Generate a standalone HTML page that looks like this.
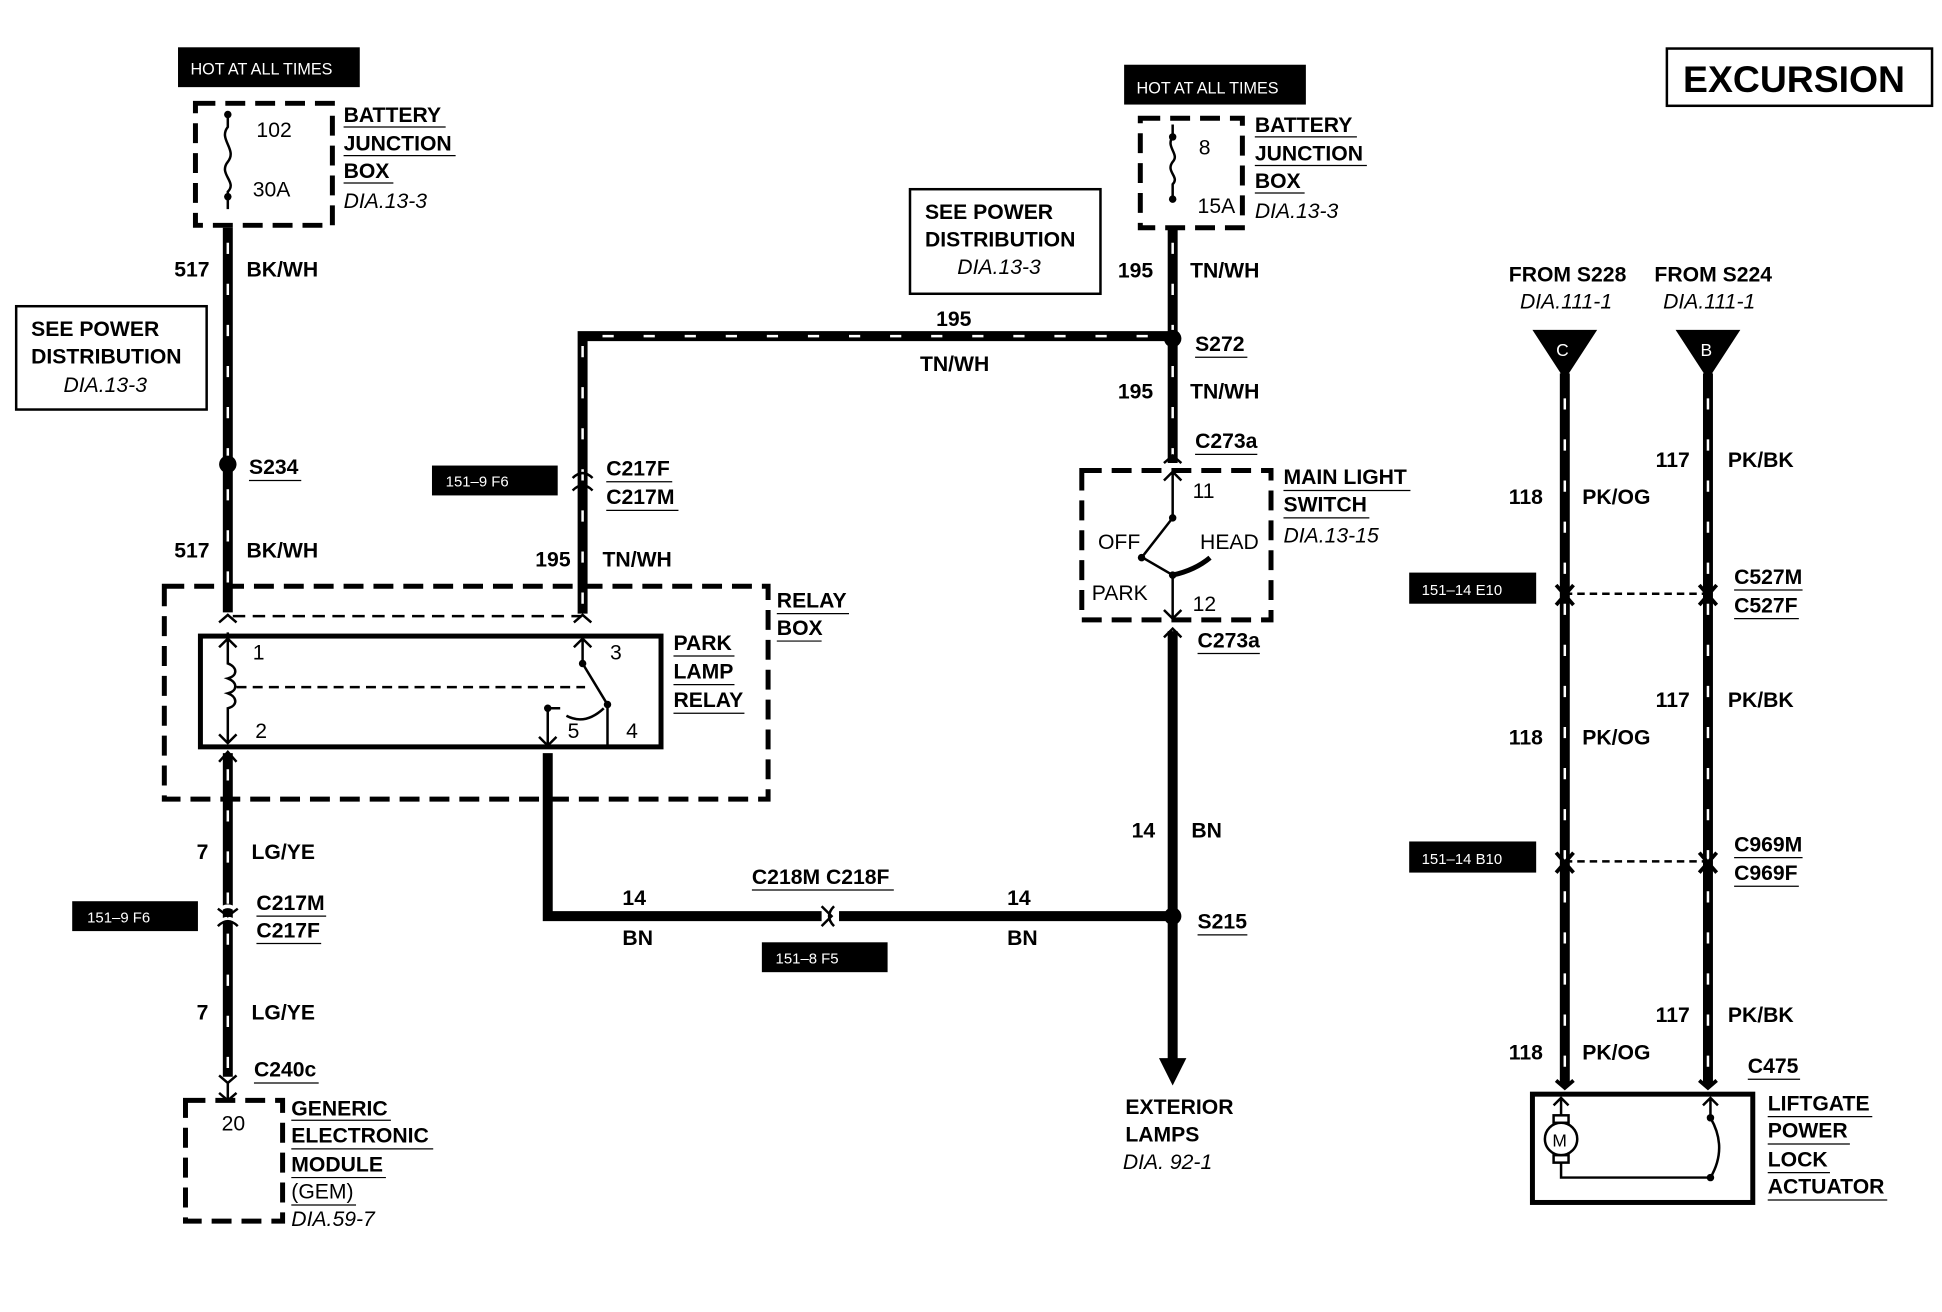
<!DOCTYPE html>
<html><head><meta charset="utf-8"><style>
html,body{margin:0;padding:0;background:#fff;}
svg{display:block}
text{font-family:"Liberation Sans",sans-serif;font-weight:bold;font-size:17px;fill:#000}
.i{font-style:italic;font-weight:normal}
.n{font-weight:normal}
.w{stroke:#000;stroke-width:8;fill:none}
.s{stroke:#fff;stroke-width:2;stroke-dasharray:9 24;fill:none}
.d{stroke:#000;stroke-width:4;fill:none;stroke-dasharray:16 8}
.t{stroke:#000;stroke-width:2;fill:none}
.u{stroke:#000;stroke-width:1}
.lb{fill:#fff;font-size:12px;font-weight:normal}
</style></head><body>
<svg width="1942" height="1312" viewBox="0 0 1560 1054" preserveAspectRatio="none" xmlns="http://www.w3.org/2000/svg">
<rect width="1560" height="1054" fill="#fff"/>
<rect x="143" y="38" width="146" height="32" fill="#000"/><text x="153" y="60" class="lb" style="font-size:13px">HOT AT ALL TIMES</text>
<rect x="903" y="52" width="146" height="32" fill="#000"/><text x="913" y="75" class="lb" style="font-size:13px">HOT AT ALL TIMES</text>
<rect x="1339" y="39" width="213" height="46" fill="none" stroke="#000" stroke-width="2"/>
<text x="1352" y="74" style="font-size:30px">EXCURSION</text>

<rect x="157" y="83" width="110" height="98" class="d"/>
<path d="M183 90 v12 c-8 10 8 18 0 28 c-8 10 8 16 0 24 v14" class="t"/>
<circle cx="183" cy="92" r="3"/><circle cx="183" cy="158" r="3"/>
<text x="206" y="110" class="n">102</text><text x="203" y="158" class="n">30A</text>
<text x="276" y="98">BATTERY</text><text x="276" y="121">JUNCTION</text><text x="276" y="143">BOX</text>
<text x="276" y="167" class="i">DIA.13-3</text>
<line x1="276" y1="102" x2="358" y2="102" class="u"/><line x1="276" y1="125" x2="366" y2="125" class="u"/><line x1="276" y1="147" x2="316" y2="147" class="u"/>

<rect x="13" y="246" width="153" height="83" fill="none" stroke="#000" stroke-width="2"/>
<text x="25" y="270">SEE POWER</text><text x="25" y="292">DISTRIBUTION</text><text x="51" y="315" class="i">DIA.13-3</text>

<line x1="183" y1="183" x2="183" y2="492" class="w"/><line x1="183" y1="195" x2="183" y2="492" class="s"/>
<circle cx="183" cy="373" r="7"/>
<text x="140" y="222">517</text><text x="198" y="222">BK/WH</text>
<text x="200" y="381">S234</text><line x1="200" y1="386" x2="242" y2="386" class="u"/>
<text x="140" y="448">517</text><text x="198" y="448">BK/WH</text>

<rect x="132" y="471" width="485" height="171" class="d"/>
<text x="624" y="488">RELAY</text><text x="624" y="510">BOX</text>
<line x1="624" y1="493" x2="682" y2="493" class="u"/><line x1="624" y1="515" x2="660" y2="515" class="u"/>
<line x1="187" y1="495" x2="467" y2="495" class="t" stroke-dasharray="10 6"/>
<rect x="161" y="511" width="370" height="89" fill="none" stroke="#000" stroke-width="4"/>
<path d="M183 512 v-4 M176 520 l7 -7 l7 7 M183 513 v20 c8 3 8 10 0 12 c8 3 8 10 0 12 c8 3 8 10 0 12 v28 M176 590 l7 7 l7 -7" class="t"/>
<text x="203" y="530" class="n">1</text><text x="205" y="593" class="n">2</text>
<line x1="190" y1="552" x2="470" y2="552" class="t" stroke-dasharray="8 5"/>
<path d="M468 513 v20 l20 33 M461 520 l7 -7 l7 7 M488 566 v33" class="t"/>
<circle cx="468" cy="533" r="3"/><circle cx="488" cy="566" r="3"/>
<path d="M440 599 v-30 h10 M455 575 q15 8 30 -6" class="t"/>
<circle cx="440" cy="569" r="3"/>
<path d="M433 592 l7 7 l7 -7" class="t"/>
<text x="490" y="530" class="n">3</text><text x="456" y="593" class="n">5</text><text x="503" y="593" class="n">4</text>
<text x="541" y="522">PARK</text><text x="541" y="545">LAMP</text><text x="541" y="568">RELAY</text>
<line x1="541" y1="527" x2="590" y2="527" class="u"/><line x1="541" y1="550" x2="590" y2="550" class="u"/><line x1="541" y1="573" x2="598" y2="573" class="u"/>
<path d="M176 500 l7 -6 l7 6 M461 500 l7 -6 l7 6" class="t" stroke-width="3"/>

<line x1="183" y1="605" x2="183" y2="865" class="w"/><line x1="183" y1="618" x2="183" y2="860" class="s"/>
<path d="M176 612 l7 -8 l7 8" class="t" stroke-width="3"/>
<text x="158" y="690">7</text><text x="202" y="690">LG/YE</text>
<path d="M175 732 q8 -8 16 0 M175 742 q8 -8 16 0" stroke="#fff" stroke-width="3" fill="none"/>
<path d="M175 730 l8 6 l8 -6 M175 744 q8 -8 16 0" class="t" stroke-width="3"/>
<rect x="58" y="724" width="101" height="24" fill="#000"/><text x="70" y="741" class="lb">151–9 F6</text>
<text x="206" y="731">C217M</text><text x="206" y="753">C217F</text>
<line x1="206" y1="736" x2="262" y2="736" class="u"/><line x1="206" y1="758" x2="258" y2="758" class="u"/>
<text x="158" y="819">7</text><text x="202" y="819">LG/YE</text>
<text x="204" y="865">C240c</text><line x1="204" y1="870" x2="256" y2="870" class="u"/>
<path d="M176 864 l7 6 l7 -6 M183 870 v14 M176 878 l7 6 l7 -6" class="t" stroke-width="3"/>
<rect x="149" y="884" width="78" height="97" class="d"/>
<text x="178" y="908" class="n">20</text>
<text x="234" y="896">GENERIC</text><text x="234" y="918">ELECTRONIC</text><text x="234" y="941">MODULE</text><text x="234" y="963" class="n">(GEM)</text><text x="234" y="985" class="i">DIA.59-7</text>
<line x1="234" y1="900" x2="314" y2="900" class="u"/><line x1="234" y1="923" x2="348" y2="923" class="u"/><line x1="234" y1="946" x2="310" y2="946" class="u"/><line x1="234" y1="968" x2="286" y2="968" class="u"/>

<path d="M468 493 V270 H942" class="w"/><path d="M468 485 V270 H935" class="s"/>
<path d="M460 384 q8 -8 16 0 M460 394 q8 -8 16 0" class="t" stroke-width="3"/>
<rect x="347" y="374" width="101" height="24" fill="#000"/><text x="358" y="391" class="lb">151–9 F6</text>
<text x="487" y="382">C217F</text><text x="487" y="405">C217M</text>
<line x1="487" y1="387" x2="540" y2="387" class="u"/><line x1="487" y1="410" x2="545" y2="410" class="u"/>
<text x="430" y="455">195</text><text x="484" y="455">TN/WH</text>
<text x="752" y="262">195</text><text x="739" y="298">TN/WH</text>

<rect x="731" y="152" width="153" height="84" fill="none" stroke="#000" stroke-width="2"/>
<text x="743" y="176">SEE POWER</text><text x="743" y="198">DISTRIBUTION</text><text x="769" y="220" class="i">DIA.13-3</text>

<rect x="916" y="95" width="82" height="88" class="d"/>
<path d="M942 100 v10 c-6 8 6 14 0 20 c-6 8 6 12 0 18 v14" class="t"/>
<circle cx="942" cy="110" r="3"/><circle cx="942" cy="160" r="3"/>
<text x="963" y="124" class="n">8</text><text x="962" y="171" class="n">15A</text>
<text x="1008" y="106">BATTERY</text><text x="1008" y="129">JUNCTION</text><text x="1008" y="151">BOX</text><text x="1008" y="175" class="i">DIA.13-3</text>
<line x1="1008" y1="110" x2="1090" y2="110" class="u"/><line x1="1008" y1="133" x2="1098" y2="133" class="u"/><line x1="1008" y1="155" x2="1048" y2="155" class="u"/>

<line x1="942" y1="183" x2="942" y2="372" class="w"/><line x1="942" y1="195" x2="942" y2="365" class="s"/>
<circle cx="942" cy="272" r="7"/>
<text x="898" y="223">195</text><text x="956" y="223">TN/WH</text>
<text x="960" y="282">S272</text><line x1="960" y1="287" x2="1002" y2="287" class="u"/>
<text x="898" y="320">195</text><text x="956" y="320">TN/WH</text>
<text x="960" y="360">C273a</text><line x1="960" y1="365" x2="1010" y2="365" class="u"/>
<path d="M935 372 l7 -6 l7 6" class="t" stroke-width="3"/>
<rect x="869" y="378" width="152" height="120" class="d"/>
<path d="M942 380 v36 l-25 32 M935 386 l7 -7 l7 7 M918 448 l24 14 M942 462 v34 M935 490 l7 7 l7 -7" class="t"/>
<path d="M942 462 q18 -4 30 -14" stroke="#000" stroke-width="4" fill="none"/>
<circle cx="942" cy="416" r="3"/><circle cx="917" cy="448" r="3"/><circle cx="942" cy="462" r="3"/>
<text x="958" y="400" class="n">11</text><text x="882" y="441" class="n">OFF</text><text x="964" y="441" class="n">HEAD</text>
<text x="877" y="482" class="n">PARK</text><text x="958" y="491" class="n">12</text>
<text x="1031" y="389">MAIN LIGHT</text><text x="1031" y="411">SWITCH</text><text x="1031" y="436" class="i">DIA.13-15</text>
<line x1="1031" y1="394" x2="1133" y2="394" class="u"/><line x1="1031" y1="416" x2="1100" y2="416" class="u"/>

<line x1="942" y1="507" x2="942" y2="852" class="w"/>
<path d="M935 512 l7 -7 l7 7" class="t" stroke-width="3"/>
<polygon points="931,850 953,850 942,872"/>
<text x="962" y="520">C273a</text><line x1="962" y1="525" x2="1012" y2="525" class="u"/>
<text x="909" y="673">14</text><text x="957" y="673">BN</text>
<circle cx="942" cy="736" r="7"/>
<text x="962" y="746">S215</text><line x1="962" y1="751" x2="1002" y2="751" class="u"/>
<text x="904" y="895">EXTERIOR</text><text x="904" y="917">LAMPS</text><text x="902" y="939" class="i">DIA. 92-1</text>

<path d="M440 605 V736 H660" class="w"/><line x1="674" y1="736" x2="942" y2="736" class="w"/>
<path d="M660 728 l8 8 l-8 8 M670 728 q-8 8 0 16" class="t" stroke-width="3"/>
<text x="500" y="727">14</text><text x="500" y="759">BN</text>
<text x="809" y="727">14</text><text x="809" y="759">BN</text>
<text x="604" y="710">C218M C218F</text><line x1="604" y1="715" x2="718" y2="715" class="u"/>
<rect x="612" y="757" width="101" height="24" fill="#000"/><text x="623" y="774" class="lb">151–8 F5</text>

<text x="1212" y="226">FROM S228</text><text x="1221" y="248" class="i">DIA.111-1</text>
<text x="1329" y="226">FROM S224</text><text x="1336" y="248" class="i">DIA.111-1</text>
<polygon points="1231,265 1283,265 1257,305"/><text x="1250" y="286" class="lb" style="font-size:14px">C</text>
<polygon points="1346,265 1398,265 1372,305"/><text x="1366" y="286" class="lb" style="font-size:14px">B</text>
<line x1="1257" y1="300" x2="1257" y2="872" class="w"/><line x1="1257" y1="320" x2="1257" y2="860" class="s"/>
<line x1="1372" y1="300" x2="1372" y2="872" class="w"/><line x1="1372" y1="320" x2="1372" y2="860" class="s"/>
<line x1="1257" y1="477" x2="1372" y2="477" class="t" stroke-dasharray="6 4" stroke-width="1.5"/>
<line x1="1257" y1="692" x2="1372" y2="692" class="t" stroke-dasharray="6 4" stroke-width="1.5"/>
<text x="1330" y="375">117</text><text x="1388" y="375">PK/BK</text>
<text x="1212" y="405">118</text><text x="1271" y="405">PK/OG</text>
<rect x="1132" y="460" width="102" height="25" fill="#000"/><text x="1142" y="478" class="lb">151–14 E10</text>
<text x="1393" y="469">C527M</text><text x="1393" y="492">C527F</text>
<line x1="1393" y1="474" x2="1448" y2="474" class="u"/><line x1="1393" y1="497" x2="1445" y2="497" class="u"/>
<text x="1330" y="568">117</text><text x="1388" y="568">PK/BK</text>
<text x="1212" y="598">118</text><text x="1271" y="598">PK/OG</text>
<rect x="1132" y="676" width="102" height="25" fill="#000"/><text x="1142" y="694" class="lb">151–14 B10</text>
<text x="1393" y="684">C969M</text><text x="1393" y="707">C969F</text>
<line x1="1393" y1="689" x2="1448" y2="689" class="u"/><line x1="1393" y1="712" x2="1445" y2="712" class="u"/>
<text x="1330" y="821">117</text><text x="1388" y="821">PK/BK</text>
<text x="1212" y="851">118</text><text x="1271" y="851">PK/OG</text>
<text x="1404" y="862">C475</text><line x1="1404" y1="867" x2="1446" y2="867" class="u"/>
<path d="M1250 470 l7 8 l7 -8 M1250 486 l7 -8 l7 8 M1365 470 l7 8 l7 -8 M1365 486 l7 -8 l7 8 M1250 685 l7 8 l7 -8 M1250 701 l7 -8 l7 8 M1365 685 l7 8 l7 -8 M1365 701 l7 -8 l7 8 M1250 868 l7 6 l7 -6 M1365 868 l7 6 l7 -6" stroke="#000" stroke-width="3" fill="none"/>
<rect x="1231" y="879" width="177" height="87" fill="none" stroke="#000" stroke-width="4"/>
<path d="M1254 882 v14 M1248 888 l6 -6 l6 6 M1254 932 v14 h120 M1374 882 v16 q14 24 0 48 M1368 888 l6 -6 l6 6" class="t"/>
<rect x="1248" y="896" width="12" height="6" fill="#fff" stroke="#000" stroke-width="2"/>
<rect x="1248" y="928" width="12" height="6" fill="#fff" stroke="#000" stroke-width="2"/>
<circle cx="1254" cy="915" r="13" fill="#fff" stroke="#000" stroke-width="2"/>
<text x="1247" y="921" class="n" style="font-size:14px">M</text>
<circle cx="1374" cy="898" r="3"/><circle cx="1374" cy="946" r="3"/>
<text x="1420" y="892">LIFTGATE</text><text x="1420" y="914">POWER</text><text x="1420" y="937">LOCK</text><text x="1420" y="959">ACTUATOR</text>
<line x1="1420" y1="897" x2="1504" y2="897" class="u"/><line x1="1420" y1="919" x2="1486" y2="919" class="u"/><line x1="1420" y1="942" x2="1470" y2="942" class="u"/><line x1="1420" y1="964" x2="1516" y2="964" class="u"/>
</svg>
</body></html>
